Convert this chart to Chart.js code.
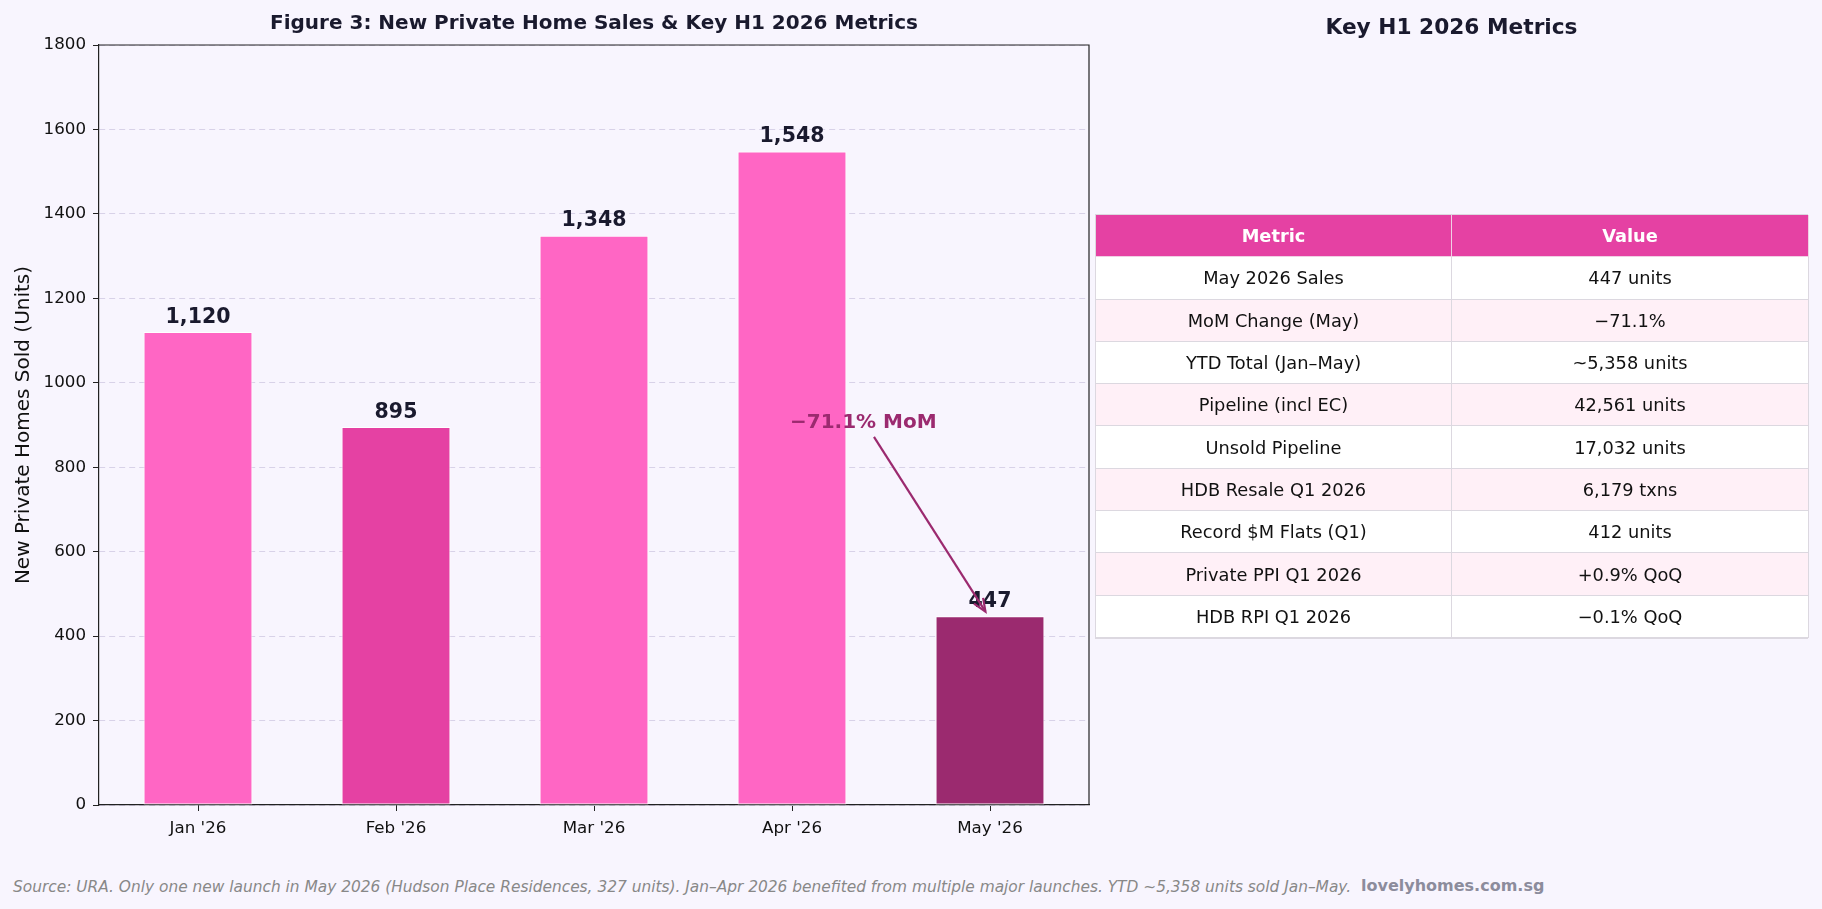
<!DOCTYPE html>
<html>
<head>
<meta charset="utf-8">
<script src="https://cdn.jsdelivr.net/npm/chart.js@4.4.1/dist/chart.umd.min.js"></script>
<style>
  html, body { margin: 0; padding: 0; background: #F8F5FE; }
  body { width: 1822px; height: 909px; position: relative; overflow: hidden; font-family: "DejaVu Sans", sans-serif; }
  #chartBox { position: absolute; left: 0; top: 0; width: 1100px; height: 860px; }
  #tableTitle { position: absolute; left: 1095px; width: 713px; top: 14px; text-align: center; font-weight: bold; font-size: 21.7px; color: #1a1a2e; }
  #metrics { position: absolute; left: 1095px; top: 214px; width: 713px; display: grid; grid-template-columns: 356px 357px; grid-auto-rows: 42.3px; border: 1px solid #dcd8e0; box-sizing: border-box; }
  #metrics div { display: flex; align-items: center; justify-content: center; font-size: 17.8px; color: #111; border-right: 1px solid #dcd8e0; border-bottom: 1px solid #dcd8e0; box-sizing: border-box; }
  #metrics div.hd { background: #E541A3; color: #fff; font-weight: bold; border-color: #f0d0e4; }
  #metrics div.alt { background: #FFF0F7; }
  #metrics div.plain { background: #ffffff; }
  #source { position: absolute; left: 13px; top: 878px; font-size: 15.4px; font-style: italic; color: #888888; }
  #brand { position: absolute; left: 1361px; top: 876px; font-size: 16px; font-weight: bold; color: #8c8c9c; }
</style>
</head>
<body>
<div id="chartBox"><canvas id="salesChart"></canvas></div>
<div id="tableTitle">Key H1 2026 Metrics</div>
<div id="metrics"></div>
<div id="source">Source: URA. Only one new launch in May 2026 (Hudson Place Residences, 327 units). Jan–Apr 2026 benefited from multiple major launches. YTD ~5,358 units sold Jan–May.</div>
<div id="brand">lovelyhomes.com.sg</div>
<script>
// === DATA ===
const months = ["Jan '26", "Feb '26", "Mar '26", "Apr '26", "May '26"];
const sales = [1120, 895, 1348, 1548, 447];
const yTicks = [0, 200, 400, 600, 800, 1000, 1200, 1400, 1600, 1800];

const tableHeader = ['Metric', 'Value'];
const metricNames = ['May 2026 Sales', 'MoM Change (May)', 'YTD Total (Jan–May)', 'Pipeline (incl EC)', 'Unsold Pipeline',
    'HDB Resale Q1 2026', 'Record $M Flats (Q1)', 'Private PPI Q1 2026', 'HDB RPI Q1 2026'];
const metricValues = ['447 units', '−71.1%', '~5,358 units', '42,561 units', '17,032 units',
    '6,179 txns', '412 units', '+0.9% QoQ', '−0.1% QoQ'];

// annotation: text anchor and arrow in data coords
const momText = '−71.1% MoM';
const momTextAt = { x: 3.36, y: 905 };
const momArrowFrom = { x: 3.414, y: 872 };
const momArrowTo = { x: 3.977, y: 458 };

const PINK = '#FF66C4';
const MAGENTA = '#E541A3';
const PLUM = '#9B2A6F';
const barColors = [PINK, MAGENTA, PINK, PINK, PLUM];
const FONT = '"DejaVu Sans", sans-serif';

// === TABLE ===
const tbl = document.getElementById('metrics');
tableHeader.forEach(h => {
    const d = document.createElement('div');
    d.className = 'hd'; d.textContent = h; tbl.appendChild(d);
});
metricNames.forEach((m, i) => {
    [m, metricValues[i]].forEach(t => {
        const d = document.createElement('div');
        d.className = i % 2 ? 'alt' : 'plain';
        d.textContent = t; tbl.appendChild(d);
    });
});

// === CHART ===
const extras = {
    id: 'extras',
    afterDraw(chart) {
        const { ctx, chartArea: a, scales: { x, y } } = chart;
        ctx.save();
        // top/right spines
        ctx.strokeStyle = '#222'; ctx.lineWidth = 1.2;
        ctx.beginPath();
        ctx.moveTo(a.left, a.top); ctx.lineTo(a.right, a.top); ctx.lineTo(a.right, a.bottom);
        ctx.stroke();
        // title
        ctx.fillStyle = '#1a1a2e';
        ctx.font = 'bold 20px ' + FONT;
        ctx.textAlign = 'center'; ctx.textBaseline = 'middle';
        ctx.fillText('Figure 3: New Private Home Sales & Key H1 2026 Metrics', (a.left + a.right) / 2, 23.5);
        // value labels
        ctx.font = 'bold 20.5px ' + FONT;
        ctx.textBaseline = 'alphabetic';
        chart.getDatasetMeta(0).data.forEach((bar, i) => {
            ctx.fillText(sales[i].toLocaleString('en-US'), bar.x, bar.y - 9.5);
        });
        // MoM annotation
        const x0 = x.getPixelForValue(momArrowFrom.x), y0 = y.getPixelForValue(momArrowFrom.y);
        const x1 = x.getPixelForValue(momArrowTo.x), y1 = y.getPixelForValue(momArrowTo.y);
        ctx.strokeStyle = PLUM; ctx.lineWidth = 2.2;
        ctx.beginPath(); ctx.moveTo(x0, y0); ctx.lineTo(x1, y1); ctx.stroke();
        const ang = Math.atan2(y1 - y0, x1 - x0), hl = 14;
        ctx.beginPath();
        ctx.moveTo(x1 - hl * Math.cos(ang - 0.4), y1 - hl * Math.sin(ang - 0.4));
        ctx.lineTo(x1, y1);
        ctx.lineTo(x1 - hl * Math.cos(ang + 0.4), y1 - hl * Math.sin(ang + 0.4));
        ctx.stroke();
        ctx.fillStyle = PLUM;
        ctx.font = 'bold 20px ' + FONT;
        ctx.textBaseline = 'middle';
        ctx.fillText(momText, x.getPixelForValue(momTextAt.x), y.getPixelForValue(momTextAt.y));
        ctx.restore();
    }
};

new Chart(document.getElementById('salesChart'), {
    type: 'bar',
    data: {
        labels: months,
        datasets: [{ data: sales, backgroundColor: barColors, borderColor: '#ffffff', borderWidth: 1, borderSkipped: false,
            barPercentage: 0.55, categoryPercentage: 1.0 }]
    },
    options: {
        responsive: true, maintainAspectRatio: false, animation: false,
        layout: { padding: { left: 0, right: 11, top: 45, bottom: 0 } },
        plugins: { legend: { display: false }, tooltip: { enabled: false } },
        scales: {
            x: {
                afterFit: s => { s.height = 55; },
                grid: { drawOnChartArea: false, offset: false, tickLength: 6, tickColor: '#222' },
                border: { color: '#222', width: 1.2 },
                ticks: { color: '#111', font: { family: FONT, size: 16.7 }, padding: 8 }
            },
            y: {
                min: 0, max: 1800,
                afterFit: s => { s.width = 99; },
                afterBuildTicks: s => { s.ticks = yTicks.map(v => ({ value: v })); },
                grid: { color: '#d8d2e8', tickLength: 6, tickColor: '#222' },
                border: { color: '#222', width: 1.2, dash: [6, 4] },
                ticks: { color: '#111', font: { family: FONT, size: 16.7 }, padding: 7, callback: v => String(v) },
                title: { display: true, text: 'New Private Homes Sold (Units)', color: '#111',
                    font: { family: FONT, size: 20 }, padding: { top: 12, bottom: 0 } }
            }
        }
    },
    plugins: [extras]
});
</script>
</body>
</html>
